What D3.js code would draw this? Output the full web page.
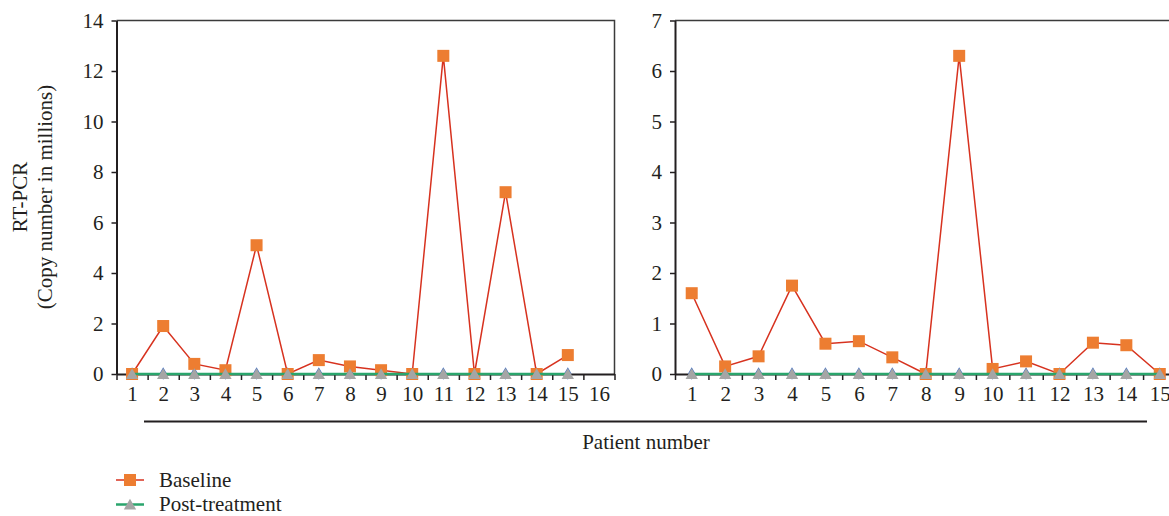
<!DOCTYPE html>
<html>
<head>
<meta charset="utf-8">
<title>RT-PCR copy number</title>
<style>
  body { margin: 0; background: #fff; }
  svg text { font-family: "Liberation Serif", "Times New Roman", serif; fill: #231f20; }
</style>
</head>
<body>
<svg id="chart" width="1169" height="516"></svg>
<script src="https://d3js.org/d3.v7.min.js"></script>
<script>
// left panel
const leftPatients = ["1","2","3","4","5","6","7","8","9","10","11","12","13","14","15","16"];
const leftBaseline = [0, 1.9, 0.4, 0.15, 5.1, 0, 0.55, 0.3, 0.15, 0, 12.6, 0, 7.2, 0, 0.75];
const leftPost     = [0, 0, 0, 0, 0, 0, 0, 0, 0, 0, 0, 0, 0, 0, 0];
const leftYTicks   = [0, 2, 4, 6, 8, 10, 12, 14];

// right panel
const rightPatients = ["1","2","3","4","5","6","7","8","9","10","11","12","13","14","15"];
const rightBaseline = [1.6, 0.15, 0.35, 1.75, 0.6, 0.65, 0.33, 0, 6.3, 0.1, 0.25, 0, 0.62, 0.57, 0];
const rightPost     = [0, 0, 0, 0, 0, 0, 0, 0, 0, 0, 0, 0, 0, 0, 0];
const rightYTicks   = [0, 1, 2, 3, 4, 5, 6, 7];

const seriesNames = ["Baseline", "Post-treatment"];

const ink = "#231f20";
const redLine = "#d7321f";
const orange = "#ed7d31";
const green = "#2aa56c";
const grey = "#a5a5a5";
const blue = "#4472c4";
const fontSize = 21;

const svg = d3.select("#chart");
const y0 = 374, yTop = 20.5;

function panel(cfg) {
  const g = svg.append("g");
  const n = cfg.labels.length;
  const x = d3.scaleLinear().domain([0.5, n + 0.5]).range([cfg.x0, cfg.x1]);
  const y = d3.scaleLinear().domain([0, cfg.yMax]).range([y0, yTop]);

  // frame (top and right)
  g.append("path")
    .attr("d", `M${cfg.x0},${yTop}H${cfg.x1}V${y0}`)
    .attr("fill", "none").attr("stroke", "#3b3b3b").attr("stroke-width", 1.5);

  // x tick marks at the category boundaries
  const xTickAxis = g.append("g").attr("transform", `translate(0,${y0})`)
    .call(d3.axisBottom(x).tickValues(d3.range(0.5, n + 1, 1)).tickSize(6).tickSizeOuter(0).tickFormat(""));
  xTickAxis.select(".domain").attr("stroke", ink).attr("stroke-width", 2);
  xTickAxis.selectAll(".tick line").attr("stroke", ink).attr("stroke-width", 1.5);

  // x labels at the centres
  const xLab = g.append("g").attr("transform", `translate(0,${y0})`)
    .call(d3.axisBottom(x).tickValues(d3.range(1, n + 1)).tickSize(0).tickPadding(12)
      .tickFormat(d => cfg.labels[d - 1]));
  xLab.select(".domain").remove();
  xLab.selectAll("text").attr("font-size", fontSize).attr("fill", ink)
    .style("font-family", "'Liberation Serif', serif");

  // y axis
  const yAx = g.append("g").attr("transform", `translate(${cfg.x0},0)`)
    .call(d3.axisLeft(y).tickValues(cfg.yTicks).tickSize(5).tickSizeOuter(0).tickPadding(8)
      .tickFormat(d3.format("d")));
  yAx.select(".domain").attr("stroke", ink).attr("stroke-width", 2);
  yAx.selectAll(".tick line").attr("stroke", ink).attr("stroke-width", 1.5);
  yAx.selectAll("text").attr("font-size", fontSize).attr("fill", ink)
    .style("font-family", "'Liberation Serif', serif");

  const base = cfg.baseline.map((v, i) => [i + 1, v]);
  const post = cfg.post.map((v, i) => [i + 1, v]);
  const line = d3.line().x(d => x(d[0])).y(d => y(d[1]));

  // blue markers peeking behind the triangles
  g.append("g").selectAll("path").data(post).join("path")
    .attr("d", d3.symbol(d3.symbolDiamond, 46))
    .attr("transform", d => `translate(${x(d[0])},${y(d[1]) - 0.5})`)
    .attr("fill", blue);

  g.append("path").datum(base).attr("d", line)
    .attr("fill", "none").attr("stroke", redLine).attr("stroke-width", 1.5);
  g.append("g").selectAll("rect").data(base).join("rect")
    .attr("x", d => x(d[0]) - 6).attr("y", d => y(d[1]) - 6)
    .attr("width", 12).attr("height", 12).attr("fill", orange);

  g.append("path").datum(post).attr("d", line)
    .attr("fill", "none").attr("stroke", green).attr("stroke-width", 2.5);
  g.append("g").selectAll("path").data(post).join("path")
    .attr("d", d3.symbol(d3.symbolTriangle, 66))
    .attr("transform", d => `translate(${x(d[0])},${y(d[1]) + 1.5})`)
    .attr("fill", grey);
}

panel({ labels: leftPatients, baseline: leftBaseline, post: leftPost, yTicks: leftYTicks,
        yMax: 14, x0: 116.5, x1: 614.5 });
panel({ labels: rightPatients, baseline: rightBaseline, post: rightPost, yTicks: rightYTicks,
        yMax: 7, x0: 675, x1: 1176.5 });

// y title
const yt = svg.append("text").attr("transform", "translate(20.5,197) rotate(-90)")
  .attr("text-anchor", "middle").attr("font-size", fontSize);
yt.append("tspan").attr("x", 0).attr("dy", "0.32em").text("RT-PCR");
yt.append("tspan").attr("x", 0).attr("dy", "1.2em").text("(Copy number in millions)");

// shared x title with rule
svg.append("line").attr("x1", 144).attr("x2", 1147).attr("y1", 421.5).attr("y2", 421.5)
  .attr("stroke", ink).attr("stroke-width", 1.8);
svg.append("text").attr("x", 646).attr("y", 442).attr("dy", "0.35em")
  .attr("text-anchor", "middle").attr("font-size", fontSize).text("Patient number");

// legend
const legend = svg.append("g");
const legY = [480, 504.5];
legend.selectAll("line").data(seriesNames).join("line")
  .attr("x1", 116).attr("x2", 144)
  .attr("y1", (d, i) => legY[i]).attr("y2", (d, i) => legY[i])
  .attr("stroke", (d, i) => i === 0 ? redLine : green)
  .attr("stroke-width", (d, i) => i === 0 ? 1.5 : 2.5);
legend.append("rect").attr("x", 124).attr("y", legY[0] - 6).attr("width", 12).attr("height", 12).attr("fill", orange);
legend.append("path").attr("d", d3.symbol(d3.symbolTriangle, 66))
  .attr("transform", `translate(130,${legY[1] + 1.5})`).attr("fill", grey);
legend.selectAll("text").data(seriesNames).join("text")
  .attr("x", 159).attr("y", (d, i) => legY[i]).attr("dy", "0.33em")
  .attr("font-size", fontSize).text(d => d);
</script>
</body>
</html>
